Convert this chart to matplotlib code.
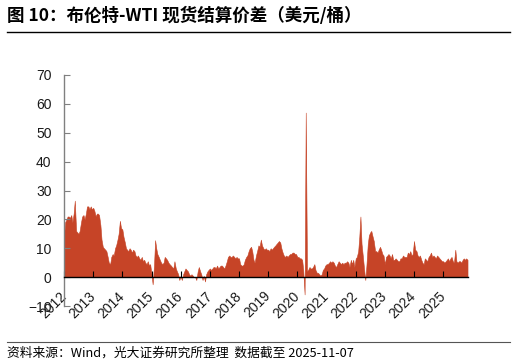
import numpy as np
import pandas as pd
import matplotlib
matplotlib.use('Agg')
import matplotlib.pyplot as plt
from matplotlib.lines import Line2D

# Brent-WTI spot spread, USD/bbl (semi-monthly)
v2012 = [14, 19, 20, 21, 21, 20.5, 21.5, 19, 22, 26.5, 16, 15.5, 15, 16, 19, 21, 21.5, 20, 22, 24.5, 24.5, 23.5, 24.5, 23.5]
v2013 = [24, 23, 21, 22, 22, 21.5, 18, 13, 10.5, 10, 9.5, 9, 7, 5, 4.5, 7, 8, 7.5, 10, 11, 13, 15, 19.5, 17]
v2014 = [16.5, 14, 12, 10, 9.5, 9, 10, 9.5, 8.5, 9.5, 9, 7.5, 7, 7.5, 6.5, 6, 7, 5.5, 6, 5, 4.5, 5.5, 4, 4.5]
v2015 = [1, -2.5, 4, 12.8, 10, 8, 7, 6, 5, 4.5, 5, 7, 6.5, 6, 5, 4.5, 4, 3.5, 3, 5.5, 3, 2, 1, -1]
v2016 = [0.5, -1, 1, 2, 3, 2.5, 2, 1, 0.5, 1, 0.5, 0, 0, -1, 2, 3.5, 2, 1, -1, 0.5, -1.5, 1, 2, 2.5]
v2017 = [3, 2.5, 3, 3.5, 3.5, 3, 4, 3, 3.5, 4, 4, 3.5, 3, 4, 5.5, 7, 7.5, 7, 7, 7.5, 7, 6.5, 7, 6.5]
v2018 = [6.5, 4.5, 4, 4, 4.5, 6, 7, 7.5, 9, 10, 10.5, 9, 6, 5, 7.5, 9, 11, 10.5, 13, 11, 10, 9.5, 10, 9.5]
v2019 = [9.5, 9, 10, 9.5, 10, 10.5, 11, 11.5, 12, 12.5, 12, 10, 8.5, 7.5, 7, 7.5, 7, 7.5, 8, 8, 8.5, 8.5, 8, 8]
v2020 = [7, 7, 6.5, 6.5, 6, 2.5, -6, 57, 2, 2.5, 3.5, 3, 3, 3.5, 4.5, 2.5, 1.5, 1.5, 1, 0.5, 1, 2.5, 3, 4]
v2021 = [4.5, 4.5, 5, 5.5, 5, 5.5, 5, 4, 3.5, 4.5, 5.5, 5, 4.5, 5, 4.5, 5, 5, 5.5, 5, 3.5, 6, 4.5, 6, 3.5]
v2022 = [6.5, 7, 9, 14, 21, 11.5, 7, 3, -1, 4, 11.5, 14.5, 15.5, 16, 14, 12.5, 9, 9, 8.5, 9.5, 10.5, 9.5, 8, 7.5]
v2023 = [4.5, 7, 7.5, 8, 7.5, 6.5, 8, 6, 6, 6.5, 6, 5.5, 5.5, 6.5, 6.5, 7.5, 7, 7, 7, 8.5, 8, 9, 7.5, 8]
v2024 = [12.5, 9.5, 9, 7.5, 7, 7.5, 6, 5, 4.5, 6.5, 6, 5.5, 7, 7.5, 8.5, 7, 7.5, 7, 6.5, 7.5, 7, 6.5, 6, 5.5]
v2025 = [5.5, 5, 5.5, 6, 6.5, 5.5, 6.5, 7, 5.5, 5, 9.5, 5.5, 5, 5.5, 5.5, 5, 6, 6.5, 6, 6.5, 6]

spread = np.array(v2012 + v2013 + v2014 + v2015 + v2016 + v2017 + v2018 +
                  v2019 + v2020 + v2021 + v2022 + v2023 + v2024 + v2025)
dates = pd.date_range('2012-01-01', '2025-11-01', freq='SMS')

years = list(range(2012, 2026))
yticks = list(range(-10, 80, 10))

title = '图 10：布伦特-WTI 现货结算价差（美元/桶）'
source = '资料来源：Wind，光大证券研究所整理  数据截至 2025-11-07'
red = '#C64427'
cjk = ['Noto Sans CJK SC', 'DejaVu Sans']

fig = plt.figure(figsize=(5.16, 3.64), dpi=100)
ax = fig.add_axes([64/516, 1-306/364, (468-64)/516, (306-75)/364])

ax.fill_between(dates, 0, spread, color=red, lw=0.4, edgecolor=red)

ax.set_ylim(-10, 70)
ax.set_xlim(pd.Timestamp('2012-01-01'), pd.Timestamp('2025-11-07'))
ax.set_yticks(yticks)
ax.set_xticks([pd.Timestamp(f'{y}-01-01') for y in years])
ax.set_xticklabels([str(y) for y in years])

for s in ['top', 'right']:
    ax.spines[s].set_visible(False)
ax.spines['bottom'].set_position(('data', 0))
ax.spines['bottom'].set_color('black')
ax.spines['bottom'].set_linewidth(1)
ax.spines['left'].set_color('#808080')
ax.spines['left'].set_linewidth(1)

ax.tick_params(axis='x', direction='in', length=4, color='black', pad=12,
               labelsize=10, labelcolor='#1a1a1a')
ax.tick_params(axis='y', direction='in', length=4, color='#808080', pad=9,
               labelsize=10, labelcolor='#1a1a1a')
for lab in ax.get_xticklabels():
    lab.set_rotation(45)
    lab.set_ha('right')
    lab.set_va('center')
    lab.set_rotation_mode('anchor')
    lab.set_fontfamily('Liberation Sans')
for lab in ax.get_yticklabels():
    lab.set_fontfamily('Liberation Sans')

fig.text(7/516, 1-16/364, title, fontsize=12.6, fontweight='bold',
         family=cjk, va='center', ha='left')
fig.add_artist(Line2D([7/516, 510/516], [1-32/364, 1-32/364],
                      transform=fig.transFigure, color='black', lw=1))
fig.add_artist(Line2D([7/516, 510/516], [1-342/364, 1-342/364],
                      transform=fig.transFigure, color='#555555', lw=0.8))
fig.text(7/516, 1-353/364, source, fontsize=9.2,
         family=cjk, va='center', ha='left')

fig.savefig('out.png', dpi=100)
